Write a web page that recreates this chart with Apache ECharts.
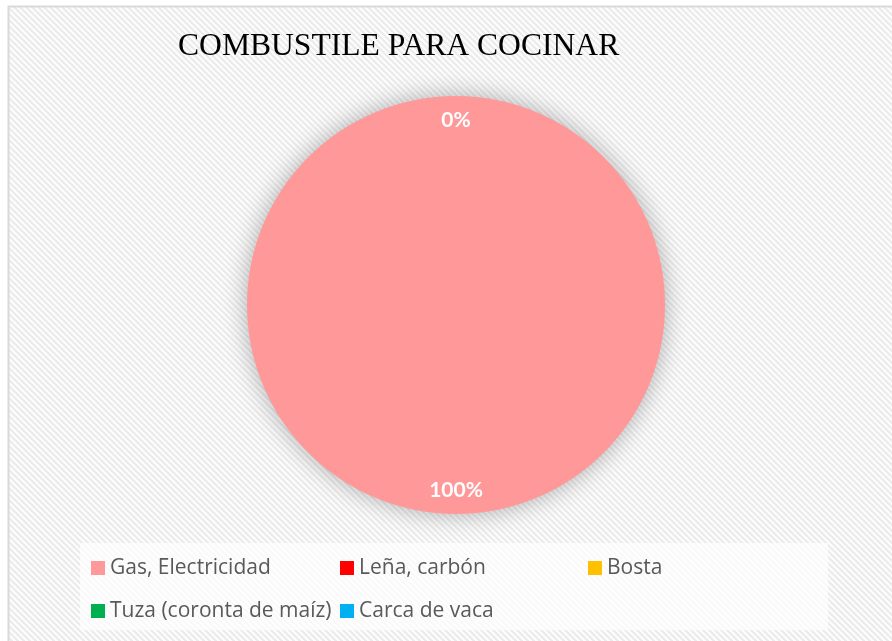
<!DOCTYPE html>
<html>
<head>
<meta charset="utf-8">
<script src="https://cdn.jsdelivr.net/npm/echarts@6/dist/echarts.min.js"></script>
<style>
html,body{margin:0;padding:0;background:#fff;}
#c{width:892px;height:641px;}
</style>
</head>
<body>
<div id="c"></div>
<script>
const titleText = 'COMBUSTILE PARA COCINAR';
const categories = ['Gas, Electricidad', 'Leña, carbón', 'Bosta', 'Tuza (coronta de maíz)', 'Carca de vaca'];
const values = [100, 0, 0, 0, 0];
const colors = ['#FF9999', '#FF0000', '#FFC000', '#00B050', '#00B0F0'];

function stripePattern(){
  const s = 6;
  const cv = document.createElement('canvas');
  cv.width = s; cv.height = s;
  const ctx = cv.getContext('2d');
  const img = ctx.createImageData(s, s);
  for (let y = 0; y < s; y++) for (let x = 0; x < s; x++) {
    const k = (((x - y) % s) + s) % s;
    const v = k < 3 ? 236 : 252;
    const i = (y * s + x) * 4;
    img.data[i] = v; img.data[i+1] = v; img.data[i+2] = v; img.data[i+3] = 255;
  }
  ctx.putImageData(img, 0, 0);
  return cv;
}

const data = categories.map((n, i) => ({ name: n, value: values[i], itemStyle: { color: colors[i] } }));
const labelData = categories.map((n, i) => ({ name: n, value: values[i] }));

const chart = echarts.init(document.getElementById('c'), null, { renderer: 'canvas' });
const legendText = { fontFamily: 'Open Sans', fontSize: 21, color: '#595959', lineHeight: 24 };
const legendBase = {
  orient: 'vertical', icon: 'rect', itemWidth: 14, itemHeight: 14, padding: 0,
  itemGap: 19, top: 556, textStyle: legendText, selectedMode: false
};
chart.setOption({
  animation: false,
  backgroundColor: '#fff',
  graphic: [
    { type: 'rect', z: -10, shape: { x: 8.5, y: 6.5, width: 1000, height: 1000 },
      style: { fill: { image: stripePattern(), repeat: 'repeat' }, stroke: '#D9D9D9', lineWidth: 2 } },
    { type: 'rect', z: -9, shape: { x: 80, y: 543, width: 748, height: 87 },
      style: { fill: 'rgba(255,255,255,0.7)' } }
  ],
  title: {
    text: titleText, left: 178, top: 31, padding: 0,
    textStyle: { fontFamily: 'Liberation Serif', fontWeight: 'normal', fontSize: 31.6, color: '#000' }
  },
  legend: [
    Object.assign({}, legendBase, { left: 91, data: [categories[0], categories[3]] }),
    Object.assign({}, legendBase, { left: 340, data: [categories[1], categories[4]] }),
    Object.assign({}, legendBase, { left: 588, data: [categories[2]] })
  ],
  series: [
    {
      type: 'pie', center: [456, 305], radius: 209, startAngle: 90,
      data: data, label: { show: false }, labelLine: { show: false },
      emphasis: { disabled: true },
      itemStyle: { shadowBlur: 24, shadowColor: 'rgba(0,0,0,0.3)' }
    },
    {
      type: 'pie', center: [456, 305], radius: [155, 209], startAngle: 90, silent: true,
      data: labelData, itemStyle: { color: 'rgba(0,0,0,0)' },
      label: { show: true, position: 'inside', formatter: '{d}%', color: '#fff',
               fontFamily: 'Lato', fontWeight: 'bold', fontSize: 21 },
      labelLine: { show: false }, emphasis: { disabled: true }
    }
  ]
});
</script>
</body>
</html>
